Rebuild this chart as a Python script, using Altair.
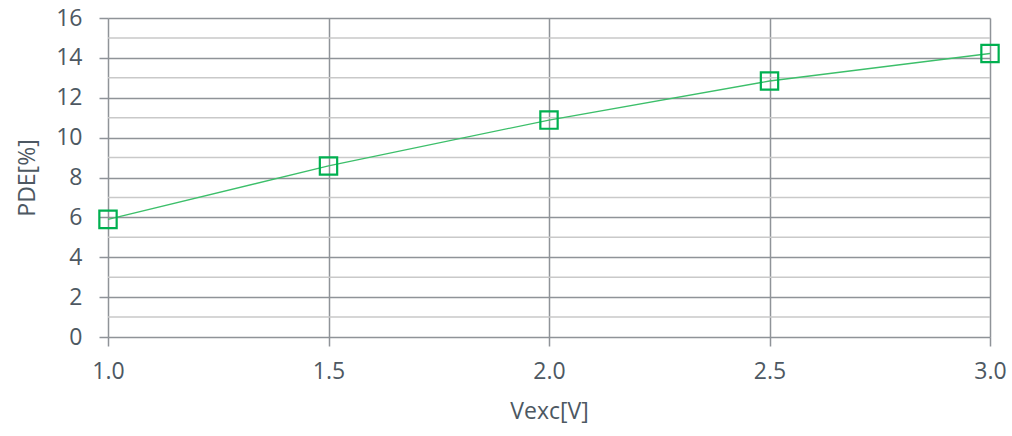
import altair as alt
import pandas as pd

vexc = [1.0, 1.5, 2.0, 2.5, 3.0]
pde = [5.9, 8.58, 10.88, 12.84, 14.22]
minor_y = [1, 3, 5, 7, 9, 11, 13, 15]
x_ticks = [1.0, 1.5, 2.0, 2.5, 3.0]
y_ticks = [0, 2, 4, 6, 8, 10, 12, 14, 16]

df = pd.DataFrame({"Vexc": vexc, "PDE": pde})
df_minor = pd.DataFrame({"y": minor_y})

FONT = "Open Sans"
TXT = "#4d5862"

xscale = alt.Scale(domain=[1.0, 3.0], nice=False, zero=False)
yscale = alt.Scale(domain=[0, 16], nice=False)

x_axis = alt.Axis(values=x_ticks, format=".1f", title="Vexc[V]", labelFlush=False,
                  labelPadding=14, titlePadding=17)
y_axis = alt.Axis(values=y_ticks, title="PDE[%]", labelPadding=17, titlePadding=16)

minor = alt.Chart(df_minor).mark_rule(color="#c9c9c9", strokeWidth=1.5).encode(
    y=alt.Y("y:Q", scale=yscale, axis=y_axis)
)

line = alt.Chart(df).mark_line(color="#3cbf6a", strokeWidth=1.3).encode(
    x=alt.X("Vexc:Q", scale=xscale, axis=x_axis),
    y=alt.Y("PDE:Q", scale=yscale, axis=y_axis),
)
pts = alt.Chart(df).mark_point(shape="square", filled=False, color="#00b050",
                               size=300, strokeWidth=2.2, opacity=1).encode(
    x=alt.X("Vexc:Q", scale=xscale, axis=x_axis),
    y=alt.Y("PDE:Q", scale=yscale, axis=y_axis),
)

chart = alt.layer(minor, line, pts).properties(
    width=882, height=319,
    autosize=alt.AutoSizeParams(type="none"),
    padding={"left": 108, "top": 18, "right": 22, "bottom": 99},
    background="white",
).configure_view(stroke=None).configure_axis(
    grid=True, gridColor="#8f9398", gridWidth=1.5, domain=False,
    tickColor="#8f9398", tickWidth=1.5, tickSize=9,
    labelFont=FONT, labelFontSize=23, labelColor=TXT,
    titleFont=FONT, titleFontSize=23, titleColor=TXT, titleFontWeight="normal",
)

chart.save("out.html", embed_options={"renderer": "svg", "actions": False})
